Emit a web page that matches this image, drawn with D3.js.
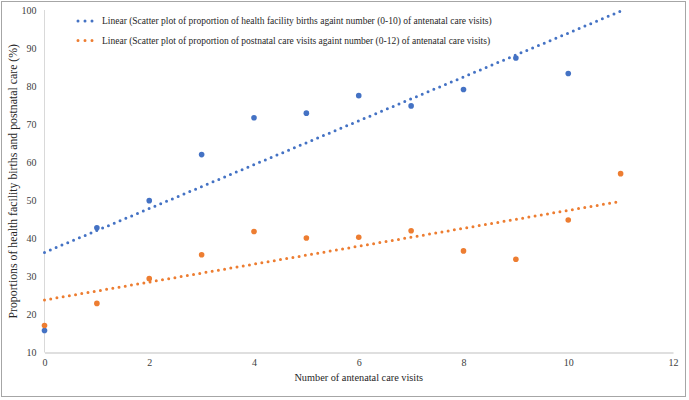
<!DOCTYPE html>
<html>
<head>
<meta charset="utf-8">
<script src="https://cdn.jsdelivr.net/npm/d3@7"></script>
<style>
  html, body { margin: 0; padding: 0; background: #fff; }
  svg { display: block; }
  svg text { font-family: "Liberation Serif", "Times New Roman", serif; }
</style>
</head>
<body>
<svg id="chart" width="689" height="400"></svg>
<script>
// ---- data ----
const visits = [0, 1, 2, 3, 4, 5, 6, 7, 8, 9, 10, 11];
const facilityBirths = [15.8, 42.8, 49.9, 62.0, 71.7, 72.9, 77.5, 74.8, 79.1, 87.4, 83.3];
const postnatalCare = [17.1, 22.9, 29.4, 35.7, 41.8, 40.1, 40.3, 42.0, 36.7, 34.5, 44.8, 57.0];
const trendFacility = [[0, 36.3], [11, 99.7]];
const trendPostnatal = [[0, 23.8], [11, 49.7]];
const xTicks = [0, 2, 4, 6, 8, 10, 12];
const yTicks = [10, 20, 30, 40, 50, 60, 70, 80, 90, 100];
const legendLabels = [
  "Linear (Scatter plot of proportion of health facility births againt number (0-10) of antenatal care visits)",
  "Linear (Scatter plot of proportion of postnatal care visits againt number (0-12) of antenatal care visits)"
];
const colors = ["#4472C4", "#ED7D31"];

// ---- layout ----
const svg = d3.select("#chart");
const x = d3.scaleLinear().domain([0, 12]).range([44.5, 673]);
const y = d3.scaleLinear().domain([10, 100]).range([352.5, 10]);

// outer frame
svg.append("rect").attr("x", 1.5).attr("y", 1.5).attr("width", 684).attr("height", 395)
  .attr("fill", "none").attr("stroke", "#a6a6a6").attr("stroke-width", 1);

// y axis line
svg.append("line").attr("x1", x(0)).attr("x2", x(0)).attr("y1", y(100)).attr("y2", y(10))
  .attr("stroke", "#d9d9d9").attr("stroke-width", 1);

// x axis
const xAxis = svg.append("g").attr("transform", `translate(0,${y(10)})`)
  .call(d3.axisBottom(x).tickValues(xTicks).tickSize(0).tickPadding(6).tickFormat(d3.format("d")));
xAxis.attr("font-family", null);
xAxis.select(".domain").attr("stroke", "#bfbfbf");
xAxis.selectAll("text").attr("font-size", 10).attr("fill", "#404040");

// y axis
const yAxis = svg.append("g").attr("transform", `translate(${x(0)},0)`)
  .call(d3.axisLeft(y).tickValues(yTicks).tickSize(0).tickPadding(8).tickFormat(d3.format("d")));
yAxis.attr("font-family", null);
yAxis.select(".domain").remove();
yAxis.selectAll("text").attr("font-size", 10).attr("fill", "#404040");

// axis titles
svg.append("text").attr("x", (x(0) + x(12)) / 2).attr("y", 381)
  .attr("text-anchor", "middle").attr("font-size", 10.3).attr("fill", "#262626")
  .text("Number of antenatal care visits");
svg.append("text")
  .attr("transform", `translate(17,${(y(10) + y(100)) / 2}) rotate(-90)`)
  .attr("text-anchor", "middle").attr("font-size", 11.8).attr("fill", "#262626")
  .text("Proportions of health facility births and postnatal care (%)");

// trend lines
const line = d3.line().x(d => x(d[0])).y(d => y(d[1]));
[trendFacility, trendPostnatal].forEach((t, i) => {
  svg.append("path").datum(t).attr("d", line)
    .attr("fill", "none").attr("stroke", colors[i]).attr("stroke-width", 3)
    .attr("stroke-linecap", "round").attr("stroke-dasharray", "0,6.3");
});

// scatter points
svg.append("g").selectAll("circle").data(facilityBirths).join("circle")
  .attr("cx", (d, i) => x(visits[i])).attr("cy", d => y(d)).attr("r", 2.8).attr("fill", colors[0]);
svg.append("g").selectAll("circle").data(postnatalCare).join("circle")
  .attr("cx", (d, i) => x(visits[i])).attr("cy", d => y(d)).attr("r", 2.8).attr("fill", colors[1]);

// legend
const lg = svg.append("g");
legendLabels.forEach((lab, i) => {
  const ly = 24 + i * 19.5;
  lg.append("line").attr("x1", 78).attr("x2", 99).attr("y1", ly - 3).attr("y2", ly - 3)
    .attr("stroke", colors[i]).attr("stroke-width", 3).attr("stroke-linecap", "round")
    .attr("stroke-dasharray", "0,7");
  lg.append("text").attr("x", 102).attr("y", ly).attr("font-size", 9.5).attr("fill", "#262626")
    .text(lab);
});
</script>
</body>
</html>
